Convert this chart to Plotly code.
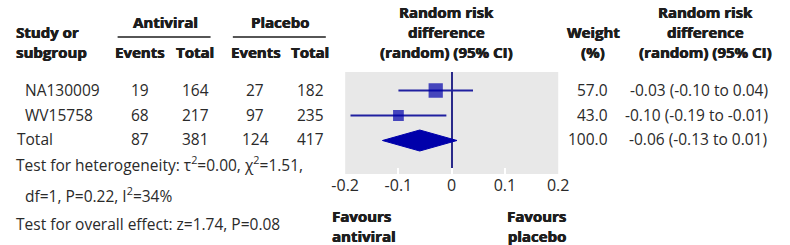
import plotly.graph_objects as go

# ---------------- data ----------------
studies = ["NA130009", "WV15758"]
antiviral_events = [19, 68]
antiviral_total = [164, 217]
placebo_events = [27, 97]
placebo_total = [182, 235]
weights = [57.0, 43.0]
risk_diff = [-0.03, -0.10]
ci_low = [-0.10, -0.19]
ci_high = [0.04, -0.01]

total_label = "Total"
total_antiviral_events = 87
total_antiviral_total = 381
total_placebo_events = 124
total_placebo_total = 417
total_weight = 100.0
total_rd = -0.06
total_low = -0.13
total_high = 0.01

x_ticks = [-0.2, -0.1, 0, 0.1, 0.2]
x_tick_labels = ["-0.2", "-0.1", "0", "0.1", "0.2"]

heterogeneity_1 = "Test for heterogeneity: τ<sup>2</sup>=0.00, χ<sup>2</sup>=1.51,"
heterogeneity_2 = "df=1, P=0.22, I<sup>2</sup>=34%"
overall_effect = "Test for overall effect: z=1.74, P=0.08"

# ---------------- style ----------------
W, H = 790, 245
FONT = "Open Sans"
BFONT = "Open Sans"
TXT = "#2a2a2a"
BOLD_TXT = "#1e1e1e"
BLUE = "#0000aa"
LINE_BLUE = "#2020a0"
FS = 15.5
BFS = 15
BOLD_W = 700
BOLD_SHADOW = "0.45px 0 0 #1e1e1e, -0.2px 0 0 #1e1e1e"

row_idx = [0, 1]
total_idx = 2


def px(x):
    return x / W


def py(y):
    return 1 - y / H


ann = []


def text(s, x, y, anchor="center", bold=False, size=None):
    if size is None:
        size = BFS if bold else FS
    f = dict(family=BFONT if bold else FONT, size=size,
             color=BOLD_TXT if bold else TXT, weight=BOLD_W if bold else 400)
    if bold:
        f["shadow"] = BOLD_SHADOW
    ann.append(dict(
        text=s, x=px(x), y=py(y), xref="paper", yref="paper",
        xanchor=anchor, yanchor="middle", showarrow=False,
        align=anchor if anchor != "center" else "center", font=f,
    ))


# headers
text("Study or", 0, 32, "left", True)
text("subgroup", 0, 52, "left", True)
text("Antiviral", 156, 22, "center", True)
text("Placebo", 275, 22, "center", True)
text("Events", 130, 52, "center", True)
text("Total", 187, 52, "center", True)
text("Events", 250, 52, "center", True)
text("Total", 306, 52, "center", True)
text("Random risk", 447, 12, "center", True)
text("difference", 447, 32, "center", True)
text("(random) (95% CI)", 447, 52, "center", True)
text("Weight", 598, 32, "center", True)
text("(%)", 598, 52, "center", True)
text("Random risk", 714, 12, "center", True)
text("difference", 714, 32, "center", True)
text("(random) (95% CI)", 714, 52, "center", True)

# rows
row_y = [90, 114.5]
for i, s in enumerate(studies):
    y = row_y[i]
    text(s, 9, y, "left")
    text(str(antiviral_events[i]), 130, y)
    text(str(antiviral_total[i]), 187, y)
    text(str(placebo_events[i]), 249, y)
    text(str(placebo_total[i]), 306, y)
    text(f"{weights[i]:.1f}", 615, y, "right")
    text(f"{risk_diff[i]:.2f} ({ci_low[i]:.2f} to {ci_high[i]:.2f})", 781, y, "right")

ty = 139
text(total_label, 1, ty, "left")
text(str(total_antiviral_events), 130, ty)
text(str(total_antiviral_total), 187, ty)
text(str(total_placebo_events), 249, ty)
text(str(total_placebo_total), 306, ty)
text(f"{total_weight:.1f}", 615, ty, "right")
text(f"{total_rd:.2f} ({total_low:.2f} to {total_high:.2f})", 633, ty, "left")

text(heterogeneity_1, 0, 164, "left")
text(heterogeneity_2, 9, 195, "left")
text(overall_effect, 0, 224, "left")

text("Favours<br>antiviral", 326, 226, "left", True)
text("Favours<br>placebo", 572, 226, "right", True)

# header underlines
shapes = []
for x0, x1 in [(107, 203), (226, 322)]:
    shapes.append(dict(type="line", xref="paper", yref="paper",
                       x0=px(x0), x1=px(x1), y0=py(37), y1=py(37),
                       line=dict(color=BOLD_TXT, width=1.5)))

fig = go.Figure()

# CI lines
for i in range(len(studies)):
    fig.add_trace(go.Scatter(
        x=[ci_low[i], ci_high[i]], y=[row_idx[i], row_idx[i]], mode="lines",
        line=dict(color=LINE_BLUE, width=2), hoverinfo="skip", showlegend=False))

# squares sized by weight
fig.add_trace(go.Scatter(
    x=risk_diff, y=row_idx, mode="markers",
    marker=dict(symbol="square", size=[w * 0.25 for w in weights], color=BLUE,
                line=dict(width=0)),
    showlegend=False))

# diamond for pooled estimate
DH = 0.42
fig.add_trace(go.Scatter(
    x=[total_low, total_rd, total_high, total_rd, total_low],
    y=[total_idx, total_idx - DH, total_idx, total_idx + DH, total_idx],
    mode="lines", fill="toself", fillcolor=BLUE, line=dict(color=BLUE, width=1),
    showlegend=False))

fig.update_layout(
    width=W, height=H, margin=dict(l=0, r=0, t=0, b=0),
    paper_bgcolor="white", plot_bgcolor="#e8e8e8",
    annotations=ann, shapes=shapes,
    xaxis=dict(domain=[px(342), px(562)], range=[-0.2, 0.2], tickvals=x_ticks,
               ticktext=x_tick_labels, showgrid=False, zeroline=True,
               zerolinecolor="#2a2a8a", zerolinewidth=1.5,
               ticks="inside", ticklen=6, tickcolor="white", tickwidth=2,
               tickfont=dict(family=FONT, size=16, color=TXT), showline=False,
               fixedrange=True),
    yaxis=dict(domain=[py(174), py(72)], range=[3.34, -0.74], showticklabels=False,
               showgrid=False, zeroline=False, ticks="", fixedrange=True),
)

fig.write_html("out.html", config={"displayModeBar": False},
               post_script="document.body.style.margin='0';document.body.style.overflow='hidden';")
